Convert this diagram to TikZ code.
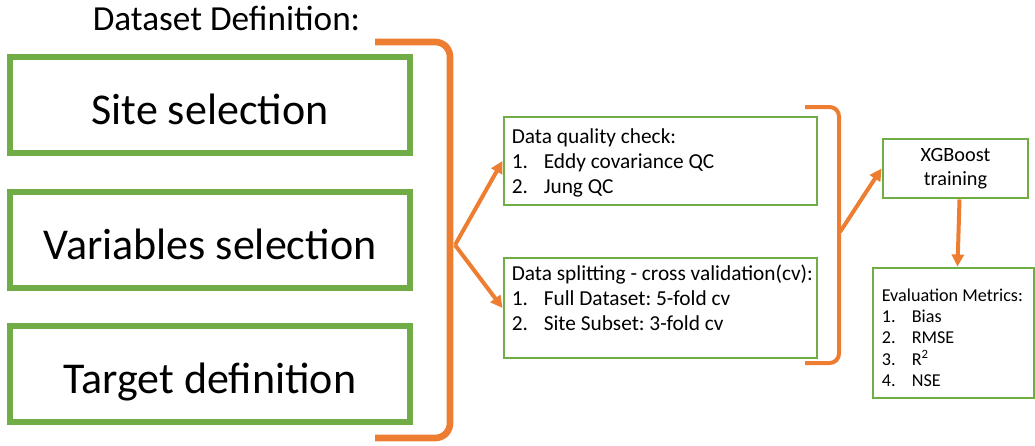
\documentclass[tikz,border=0pt]{standalone}
\usepackage{fontspec}
\setmainfont{Carlito}
\usetikzlibrary{arrows.meta}
\definecolor{boxgreen}{RGB}{112,173,71}
\definecolor{flow}{RGB}{237,125,49}

\begin{document}
\frenchspacing
\begin{tikzpicture}[x=0.75pt,y=-0.75pt,
  bigbox/.style={draw=boxgreen, line width=4.5pt, fill=white, minimum width=300pt,
    minimum height=72pt, inner sep=0pt, text height=31pt, text depth=1.5pt,
    font=\fontsize{33}{40}\selectfont},
  stagebox/.style={draw=boxgreen, line width=2.2pt, fill=white, inner sep=0pt},
  bracket/.style={draw=flow, line width=5pt, rounded corners=11pt},
  thinbracket/.style={draw=flow, line width=3pt, rounded corners=7pt},
  flowarrow/.style={draw=flow, line width=3pt, -{Triangle[length=9pt,width=9pt]}},
  listtext/.style={anchor=west, align=left, inner sep=0pt}
]
\useasboundingbox (0,0) rectangle (1035,446);

% title
\node[font=\fontsize{26.4}{30}\selectfont, anchor=base] (title) at (226.5,30) {Dataset Definition:};

% big bracket around the dataset definition steps
\draw[bracket] (375,42) -| (450,438) -- (375,438);
\coordinate (j1) at (455,245);

% dataset definition steps
\node[bigbox] (site) at (210,105) {Site selection};
\node[bigbox] (vars) at (210,240) {Variables selection};
\node[bigbox] (target) at (210,374) {Target definition};

% second bracket around the preprocessing stages
\draw[thinbracket] (805,107) -| (839,363) -- (805,363);
\coordinate (j2) at (840,232);

% preprocessing stages
\node[stagebox, minimum width=234.75pt, minimum height=66pt] (qc) at (660.5,161) {};
\node[listtext, font=\fontsize{16}{18.75}\selectfont] (qctext) at ([xshift=6.75pt,yshift=-1.5pt]qc.west)
  {Data quality check:\\
   \makebox[24pt][l]{1.}Eddy covariance QC\\
   \makebox[24pt][l]{2.}Jung QC};

\node[stagebox, minimum width=234.75pt, minimum height=75pt] (split) at (660.5,308) {};
\node[listtext, font=\fontsize{16}{18.75}\selectfont] (splittext) at ([xshift=6.75pt,yshift=-2pt]split.west)
  {Data splitting - cross validation(cv):\\
   \makebox[24pt][l]{1.}Full Dataset: 5-fold cv\\
   \makebox[24pt][l]{2.}Site Subset: 3-fold cv\\
   \mbox{}};

% model training and evaluation
\node[stagebox, minimum width=108.75pt, minimum height=44.25pt, align=center,
  font=\fontsize{15.2}{18}\selectfont] (xgb) at (955.5,168.5) {XGBoost\\training};

\node[stagebox, minimum width=120.75pt, minimum height=97.5pt] (eval) at (953.5,333) {};
\node[listtext, font=\fontsize{13.6}{15.9}\selectfont] (evaltext) at ([xshift=7.5pt,yshift=-3.5pt]eval.west)
  {Evaluation Metrics:\\
   \makebox[22.5pt][l]{1.}Bias\\
   \makebox[22.5pt][l]{2.}RMSE\\
   \makebox[22.5pt][l]{3.}R\textsuperscript{2}\\
   \makebox[22.5pt][l]{4.}NSE};

% connectors
\draw[flowarrow] (j1) -- (qc.west);
\draw[flowarrow] (j1) -- (split.west);
\draw[flowarrow] (j2) -- (xgb.west);
\draw[flowarrow] ([xshift=3pt]xgb.south) -- ([xshift=3pt]eval.north);
\end{tikzpicture}
\end{document}
